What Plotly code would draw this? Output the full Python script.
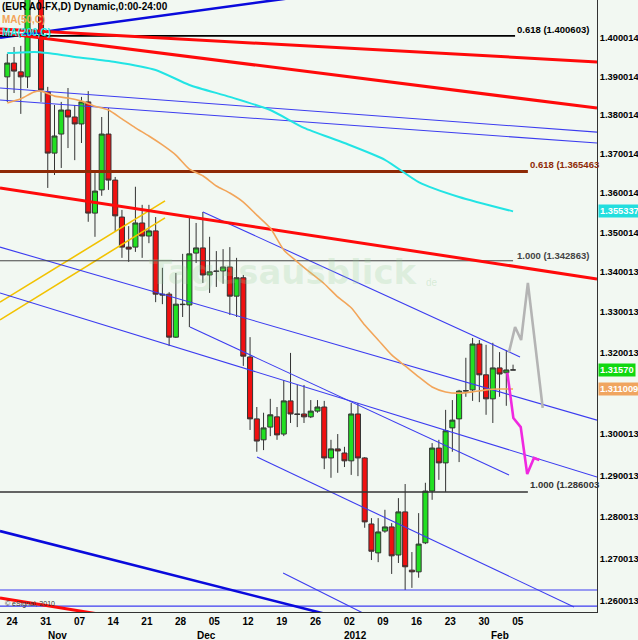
import math
import plotly.graph_objects as go

# ---------------- data (EUR/USD daily) ----------------
day_labels = ["24", "31", "07", "14", "21", "28", "05", "12", "19", "26",
              "02", "09", "16", "23", "30", "05"]
monday_bars = [0, 5, 10, 15, 20, 25, 30, 35, 40, 45, 50, 55, 60, 65, 70, 75]
month_labels = ["Nov", "Dec", "2012", "Feb"]
month_bars = [7.4, 29.5, 51.6, 73.1]

opens = [1.3899, 1.3935, 1.3912, 1.3899, 1.4180, 1.4150, 1.3860, 1.3702, 1.3751, 1.3813,
         1.3795, 1.3777, 1.3834, 1.3549, 1.3608, 1.3751, 1.3633, 1.3539, 1.3463, 1.3463,
         1.3524, 1.3491, 1.3504, 1.3345, 1.3345, 1.3238, 1.3320, 1.3318, 1.3448, 1.3461,
         1.3393, 1.3403, 1.3403, 1.3413, 1.3340, 1.3386, 1.3189, 1.3037, 1.2986, 1.3017,
         1.3042, 1.3000, 1.3081, 1.3049, 1.3049, 1.3042, 1.3056, 1.3066, 1.2942, 1.2964,
         1.2954, 1.2935, 1.3049, 1.2942, 1.2783, 1.2714, 1.2766, 1.2776, 1.2709, 1.2812,
         1.2673, 1.2669, 1.2738, 1.2862, 1.2966, 1.2930, 1.3015, 1.3037, 1.3105, 1.3108,
         1.3221, 1.3145, 1.3086, 1.3162, 1.3150, 1.3157]
highs = [1.3959, 1.3977, 1.3980, 1.4245, 1.4245, 1.4165, 1.3873, 1.3826, 1.3834, 1.3870,
         1.3826, 1.3847, 1.3862, 1.3651, 1.3795, 1.3818, 1.3641, 1.3557, 1.3516, 1.3616,
         1.3570, 1.3570, 1.3539, 1.3411, 1.3350, 1.3398, 1.3446, 1.3537, 1.3524, 1.3552,
         1.3489, 1.3453, 1.3458, 1.3463, 1.3436, 1.3393, 1.3238, 1.3066, 1.3052, 1.3086,
         1.3066, 1.3132, 1.3199, 1.3120, 1.3120, 1.3083, 1.3083, 1.3081, 1.2986, 1.3000,
         1.2969, 1.3076, 1.3076, 1.2944, 1.2797, 1.2797, 1.2817, 1.2785, 1.2845, 1.2879,
         1.2716, 1.2809, 1.2882, 1.2978, 1.2986, 1.3059, 1.3083, 1.3108, 1.3187, 1.3236,
         1.3231, 1.3219, 1.3224, 1.3201, 1.3206, 1.3170]
lows = [1.3834, 1.3857, 1.3803, 1.3870, 1.4110, 1.3834, 1.3613, 1.3646, 1.3664, 1.3715,
        1.3684, 1.3728, 1.3527, 1.3489, 1.3593, 1.3608, 1.3501, 1.3436, 1.3426, 1.3451,
        1.3436, 1.3473, 1.3325, 1.3320, 1.3216, 1.3236, 1.3288, 1.3263, 1.3423, 1.3373,
        1.3348, 1.3363, 1.3371, 1.3293, 1.3288, 1.3167, 1.3010, 1.2957, 1.2961, 1.2995,
        1.2986, 1.2995, 1.3027, 1.3017, 1.3027, 1.3039, 1.3052, 1.2915, 1.2894, 1.2906,
        1.2920, 1.2901, 1.2898, 1.2774, 1.2697, 1.2692, 1.2762, 1.2664, 1.2690, 1.2626,
        1.2631, 1.2655, 1.2735, 1.2841, 1.2889, 1.2860, 1.2957, 1.2932, 1.3091, 1.3081,
        1.3078, 1.3047, 1.3027, 1.3091, 1.3069, 1.3157]
closes = [1.3935, 1.3914, 1.3899, 1.4180, 1.4150, 1.3865, 1.3702, 1.3746, 1.3813, 1.3795,
          1.3777, 1.3834, 1.3549, 1.3605, 1.3751, 1.3633, 1.3542, 1.3463, 1.3458, 1.3524,
          1.3491, 1.3504, 1.3345, 1.3343, 1.3238, 1.3320, 1.3319, 1.3446, 1.3461, 1.3393,
          1.3401, 1.3402, 1.3413, 1.3340, 1.3386, 1.3191, 1.3037, 1.2983, 1.3015, 1.3047,
          1.2998, 1.3081, 1.3049, 1.3048, 1.3042, 1.3056, 1.3066, 1.2942, 1.2964, 1.2959,
          1.2935, 1.3049, 1.2942, 1.2788, 1.2718, 1.2764, 1.2776, 1.2707, 1.2812, 1.2681,
          1.2669, 1.2735, 1.2862, 1.2966, 1.2930, 1.3008, 1.3034, 1.3105, 1.3106, 1.3221,
          1.3145, 1.3086, 1.3162, 1.3147, 1.3157, 1.3157]
bars = list(range(len(opens)))

ma50_bars = [0, 2, 4, 5, 7, 9, 11, 13, 15, 17, 19, 21, 23, 25, 27, 29, 31, 33, 35, 37,
             39, 41, 43, 45, 47, 49, 51, 53, 55, 57, 59, 61, 63, 65, 67, 69, 71, 73, 75]
ma50_vals = [1.3831, 1.3842, 1.3860, 1.3862, 1.3849, 1.3844, 1.3836, 1.3823, 1.3813, 1.3790,
             1.3767, 1.3746, 1.3723, 1.3697, 1.3661, 1.3644, 1.3618, 1.3600, 1.3577, 1.3544,
             1.3511, 1.3456, 1.3426, 1.3398, 1.3371, 1.3338, 1.3311, 1.3268, 1.3231, 1.3194,
             1.3167, 1.3140, 1.3115, 1.3103, 1.3100, 1.3103, 1.3108, 1.3110, 1.311009]
ma200_bars = [0, 4, 6, 10, 16, 22, 27, 33, 39, 44, 50, 56, 61, 67, 75]
ma200_vals = [1.3961, 1.3964, 1.3961, 1.3951, 1.3938, 1.3917, 1.3878, 1.3847, 1.3813,
              1.3767, 1.3728, 1.3685, 1.3628, 1.3590, 1.355337]

# trend lines: (bar0, price0, bar1, price1)
X0, X1 = -1.083, 87.45
red_lines = [(X0, 1.4024, X1, 1.3938), (X0, 1.4014, X1, 1.3818),
             (X0, 1.3613, X1, 1.3383), (X0, 1.2607, 15.23, 1.2565)]
thin_blue_lines = [(X0, 1.3870, X1, 1.3756), (X0, 1.3839, X1, 1.3728),
                   (29.02, 1.3552, 76.03, 1.3189), (27.09, 1.3263, 74.4, 1.2901),
                   (X0, 1.3463, X1, 1.3034), (X0, 1.3348, X1, 1.2896),
                   (37.03, 1.2944, 84.04, 1.2586), (40.9, 1.2666, 54.1, 1.2561),
                   (X0, 1.2626, X1, 1.2626), (X0, 1.2588, X1, 1.2588)]
thick_blue_lines = [(X0, 1.4001, 43.4, 1.4109), (X0, 1.2766, 49.3, 1.2561)]
yellow_lines = [(X0, 1.3325, 23.39, 1.3580), (X0, 1.3281, 23.39, 1.3537)]

fib_levels = [1.400603, 1.365463, 1.342863, 1.286003]
fib_ends = [75.3, 77.2, 75.0, 77.2]
fib_texts = ["0.618 (1.400603)", "0.618 (1.365463", "1.000 (1.342863)", "1.000 (1.286003"]
fib_colors = ["#000000", "#8E2A06", "#444444", "#333333"]
fib_widths = [1.8, 3, 1, 1.5]

gray_proj_bars = [74.4, 75.3, 76.2, 77.2, 79.4]
gray_proj_vals = [1.3201, 1.3263, 1.3231, 1.3373, 1.3064]
mag_proj_bars = [74.15, 75.05, 76.14, 77.1, 78.1, 78.9]
mag_proj_vals = [1.3150, 1.3039, 1.3017, 1.2903, 1.2942, 1.2937]

# 1.310013 sits under the MA(50) price box in the original, so it is not shown
y_ticks = [1.260013, 1.270013, 1.280013, 1.290013, 1.300013, 1.320013,
           1.330013, 1.340013, 1.350014, 1.360014, 1.370014, 1.380014, 1.390014,
           1.400014, 1.410014]

last_price = 1.31570
ma50_last = 1.311009
ma200_last = 1.355337

# ---------------- figure ----------------
BG = "#F2F8F2"
FONT = "Liberation Sans, Arial, sans-serif"
fig = go.Figure()


def add_lines(lines, color, width):
    for (a0, p0, a1, p1) in lines:
        fig.add_trace(go.Scatter(x=[a0, a1], y=[p0, p1], mode="lines",
                                 line=dict(color=color, width=width),
                                 hoverinfo="skip"))


add_lines(yellow_lines, "#F2C200", 1.6)
add_lines(thin_blue_lines, "#3C3CF0", 1.1)
add_lines(thick_blue_lines, "#0A0ADC", 2.6)

for lvl, end, col, w in zip(fib_levels, fib_ends, fib_colors, fib_widths):
    fig.add_trace(go.Scatter(x=[X0, end], y=[lvl, lvl], mode="lines",
                             line=dict(color=col, width=w), hoverinfo="skip"))

add_lines(red_lines, "#FF0A0A", 3)

fig.add_trace(go.Scatter(x=ma200_bars, y=ma200_vals, mode="lines",
                         line=dict(color="#22E4E4", width=2, shape="spline", smoothing=0.6),
                         hoverinfo="skip"))
fig.add_trace(go.Scatter(x=ma50_bars, y=ma50_vals, mode="lines",
                         line=dict(color="#F2A55A", width=1.6, shape="spline", smoothing=0.6),
                         hoverinfo="skip"))

fig.add_trace(go.Candlestick(
    x=bars, open=opens, high=highs, low=lows, close=closes,
    increasing=dict(line=dict(color="#333333", width=1), fillcolor="#22E022"),
    decreasing=dict(line=dict(color="#333333", width=1), fillcolor="#F01010"),
    whiskerwidth=0, hoverinfo="skip"))

fig.add_trace(go.Scatter(x=gray_proj_bars, y=gray_proj_vals, mode="lines",
                         line=dict(color="#B4B4B4", width=2.6), hoverinfo="skip"))
fig.add_trace(go.Scatter(x=mag_proj_bars, y=mag_proj_vals, mode="lines",
                         line=dict(color="#F028E0", width=2.6), hoverinfo="skip"))

ann = []
# watermark
ann.append(dict(x=41.0, y=math.log10(1.3401), xref="x", yref="y", text="<b>Tagesausblick</b>",
                showarrow=False, font=dict(family="DejaVu Sans, sans-serif", size=34,
                                           color="rgba(150,205,150,0.22)")))
ann.append(dict(x=63.0, y=math.log10(1.3375), xref="x", yref="y", text="de",
                showarrow=False, font=dict(family=FONT, size=10, color="rgba(150,205,150,0.3)")))

# fib labels
fib_label_bars = [75.3, 77.2, 75.3, 77.2]
fib_label_prices = [1.4024, 1.3674, 1.3443, 1.2877]
for b, p, t, c in zip(fib_label_bars, fib_label_prices, fib_texts, fib_colors):
    ann.append(dict(x=b, y=math.log10(p), xref="x", yref="y", text=t, showarrow=False,
                    xanchor="left", yanchor="middle",
                    font=dict(family=FONT, size=9.5, color=c, weight="bold")))

# price boxes on the right axis
for val, txt, bg in [(ma200_last, "1.355337", "#22DEDE"),
                     (ma50_last, "1.311009", "#F0A560"),
                     (last_price, "1.31570", "#10D810")]:
    ann.append(dict(x=1.0, y=math.log10(val), xref="paper", yref="y", text=txt,
                    showarrow=False, xanchor="left", yanchor="middle", xshift=1,
                    bgcolor=bg, borderpad=1,
                    font=dict(family=FONT, size=9.3, color="white", weight="bold")))

# header / legend text
ann.append(dict(x=0.0, y=1.0, xref="paper", yref="paper", xanchor="left", yanchor="top",
                text="(EUR A0-FX,D) Dynamic,0:00-24:00", showarrow=False, yshift=1,
                font=dict(family=FONT, size=10, color="black", weight="bold")))
ann.append(dict(x=0.0, y=1.0, xref="paper", yref="paper", xanchor="left", yanchor="top",
                text="MA(50,C)", showarrow=False, yshift=-12,
                font=dict(family=FONT, size=10, color="#F2A55A", weight="bold")))
ann.append(dict(x=0.0, y=1.0, xref="paper", yref="paper", xanchor="left", yanchor="top",
                text="MA(200,C)", showarrow=False, yshift=-25,
                font=dict(family=FONT, size=10, color="#22E4E4", weight="bold")))
ann.append(dict(x=0.005, y=0.0, xref="paper", yref="paper", xanchor="left", yanchor="bottom",
                text="© eSignal, 2010", showarrow=False, yshift=2,
                font=dict(family=FONT, size=7, color="#333333")))

# month labels
for b, t in zip(month_bars, month_labels):
    ann.append(dict(x=b, y=0, xref="x", yref="paper", text=t, showarrow=False,
                    yanchor="middle", yshift=-23,
                    font=dict(family=FONT, size=10, color="black", weight="bold")))

fig.update_layout(
    width=638, height=640, autosize=False,
    margin=dict(l=0, r=41, t=0, b=28, pad=0),
    paper_bgcolor=BG, plot_bgcolor=BG, showlegend=False,
    boxgap=0.25, boxgroupgap=0.0,
    annotations=ann,
    xaxis=dict(range=[X0, X1], showgrid=False, zeroline=False,
               tickvals=[b + 0.7 for b in monday_bars], ticktext=day_labels,
               ticks="", showline=True, linecolor="#333333", linewidth=1,
               rangeslider=dict(visible=False),
               tickfont=dict(family=FONT, size=10, color="black", weight="bold")),
    yaxis=dict(type="log", side="right",
               range=[0.099477, 0.149233], showgrid=False, zeroline=False,
               tickvals=y_ticks, ticktext=["%.6f" % v for v in y_ticks],
               ticks="", showline=True, linecolor="#333333", linewidth=1,
               tickfont=dict(family=FONT, size=9.3, color="black", weight="bold")),
)

fig.write_html("out.html", config={"displayModeBar": False},
               post_script="document.body.style.margin='0';document.body.style.overflow='hidden';")
